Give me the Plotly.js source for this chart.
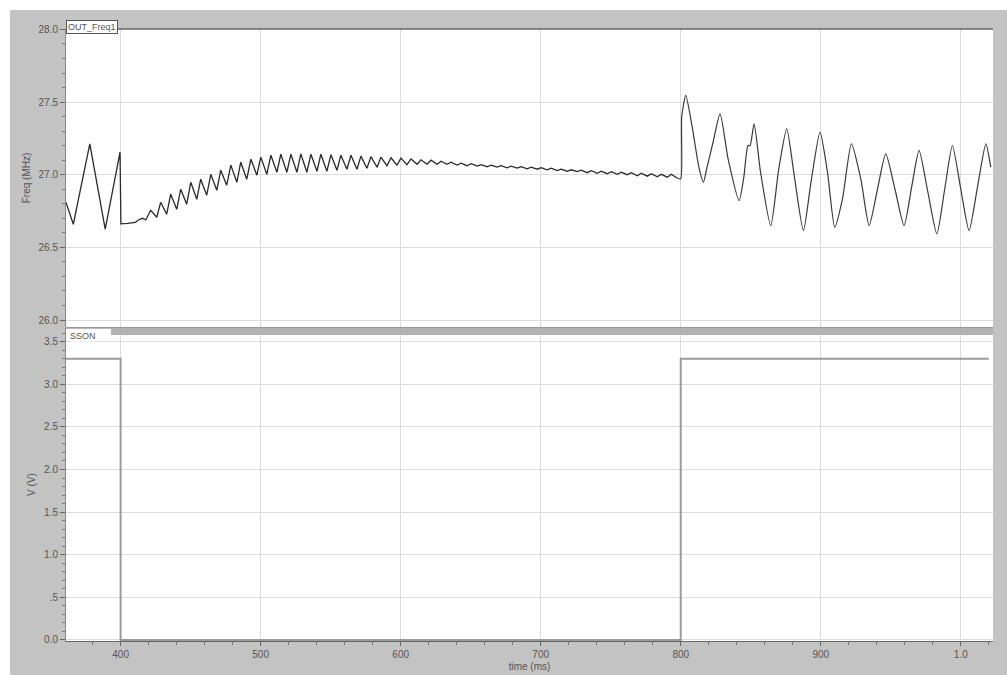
<!DOCTYPE html>
<html>
<head>
<meta charset="utf-8">
<script src="https://cdn.plot.ly/plotly-3.0.1.min.js"></script>
<style>
html,body{margin:0;padding:0;background:#fff;}
#chart{width:1007px;height:675px;}
</style>
</head>
<body>
<div id="chart"></div>
<script>
// ---- data ----
const freqTime = [
  361.0, 366.2, 378.0, 389.0, 399.6, 400.2, 405.0, 410.5, 413.0, 415.5, 418.0,
  421.5, 425.8, 428.6, 432.9, 435.8, 440.1, 442.9, 447.2, 450.1, 454.4,
  457.2, 461.5, 464.4, 468.7, 471.5, 475.8, 478.7, 483.0, 485.8, 490.1,
  493.0, 497.3, 500.1, 504.4, 507.3, 511.6, 514.4, 518.7, 521.6, 525.9,
  528.7, 533.0, 535.9, 540.2, 543.0, 547.3, 550.2, 554.5, 557.3, 561.6,
  564.5, 568.8, 571.6, 575.9, 578.8, 583.1, 585.9, 590.2, 593.1, 597.4,
  600.2, 604.5, 607.4, 611.7, 614.5, 618.8, 621.7, 626.0, 628.8, 633.1,
  636.0, 640.3, 643.1, 647.4, 650.3, 654.6, 657.4, 661.7, 664.6, 668.9,
  671.7, 676.0, 678.9, 683.2, 686.0, 690.3, 693.2, 697.5, 700.3, 704.6,
  707.5, 711.8, 714.6, 718.9, 721.8, 726.1, 728.9, 733.2, 736.1, 740.4,
  743.2, 747.5, 750.4, 754.7, 757.5, 761.8, 764.7, 769.0, 771.8, 776.1,
  779.0, 783.3, 786.1, 790.4, 793.3, 797.6,
  800.0, 800.7, 803.6, 808.0, 813.0, 816.2, 818.5, 823.0, 828.1, 834.0,
  841.7, 845.0, 848.0, 849.5, 852.4, 857.0, 864.3, 870.0, 875.7, 881.0,
  887.6, 893.0, 899.5, 904.8, 910.0, 915.5, 921.9, 928.6, 934.5, 940.5,
  946.4, 953.0, 959.5, 965.0, 970.2, 976.5, 982.9, 988.5, 994.0, 1000.0,
  1005.9, 1012.0, 1017.9, 1021.4
];
const freqMHz = [
  26.810, 26.659, 27.212, 26.626, 27.155, 26.662, 26.665, 26.672, 26.690, 26.700, 26.690,
  26.755, 26.707, 26.810, 26.728, 26.866, 26.762, 26.900, 26.797, 26.948, 26.831,
  26.969, 26.859, 27.003, 26.893, 27.031, 26.928, 27.066, 26.948, 27.086, 26.969,
  27.107, 26.997, 27.121, 27.003, 27.134, 27.017, 27.141, 27.017, 27.141, 27.017,
  27.143, 27.017, 27.141, 27.024, 27.141, 27.024, 27.138, 27.031, 27.134, 27.038,
  27.134, 27.038, 27.128, 27.045, 27.124, 27.052, 27.121, 27.062, 27.117, 27.066,
  27.114, 27.069, 27.109, 27.072, 27.103, 27.072, 27.100, 27.072, 27.093, 27.072,
  27.086, 27.066, 27.079, 27.062, 27.076, 27.059, 27.069, 27.055, 27.066, 27.052,
  27.062, 27.048, 27.059, 27.045, 27.055, 27.041, 27.052, 27.038, 27.048, 27.034,
  27.045, 27.028, 27.038, 27.024, 27.034, 27.021, 27.031, 27.014, 27.028, 27.010,
  27.024, 27.007, 27.021, 27.003, 27.017, 27.000, 27.014, 26.993, 27.010, 26.990,
  27.007, 26.986, 27.003, 26.983, 27.003, 26.976,
  26.972, 27.400, 27.546, 27.339, 27.050, 26.948, 27.040, 27.220, 27.419, 27.100,
  26.822, 26.980, 27.201, 27.200, 27.350, 27.017, 26.650, 27.040, 27.316, 26.997,
  26.615, 26.948, 27.293, 27.017, 26.638, 26.833, 27.212, 26.971, 26.650, 26.900,
  27.143, 26.900, 26.650, 26.920, 27.167, 26.880, 26.592, 26.900, 27.201, 26.900,
  26.615, 26.920, 27.212, 27.052
];
// index where spread-spectrum switches back on (t = 800)
const sscOnIndex = 117;

const ssonTime = [361, 400, 400, 800, 800, 1020];
const ssonVolt = [3.3, 3.3, 0, 0, 3.3, 3.3];

const xTickVals = [400, 500, 600, 700, 800, 900, 1000];
const xTickText = ["400", "500", "600", "700", "800", "900", "1.0"];
const fTickVals = [26.0, 26.5, 27.0, 27.5, 28.0];
const fTickText = ["26.0", "26.5", "27.0", "27.5", "28.0"];
const vTickVals = [0, 0.5, 1.0, 1.5, 2.0, 2.5, 3.0, 3.5];
const vTickText = ["0.0", ".5", "1.0", "1.5", "2.0", "2.5", "3.0", "3.5"];

const traceNames = ["OUT_Freq1", "SSON"];

// ---- chart ----
const FONT = "Liberation Sans, Arial, sans-serif";
const TXT = "#555555";
const GRID = "#dcdcdc";

const traces = [
  {x: freqTime.slice(0, sscOnIndex), y: freqMHz.slice(0, sscOnIndex), type: "scatter", mode: "lines",
   name: traceNames[0], xaxis: "x", yaxis: "y", line: {color: "#2a2a2a", width: 1.3}},
  {x: freqTime.slice(sscOnIndex - 1), y: freqMHz.slice(sscOnIndex - 1), type: "scatter", mode: "lines",
   name: traceNames[0], xaxis: "x", yaxis: "y",
   line: {color: "#3a3a3a", width: 1.2, shape: "spline", smoothing: 0.6}},
  {x: ssonTime, y: ssonVolt, type: "scatter", mode: "lines", name: traceNames[1],
   xaxis: "x2", yaxis: "y2", line: {color: "#9a9a9a", width: 2}}
];

const xCommon = {
  range: [361, 1023], tickmode: "array", tickvals: xTickVals,
  showgrid: true, gridcolor: GRID, gridwidth: 1, zeroline: false,
  ticks: "outside", ticklen: 4, tickcolor: "#666",
  minor: {tick0: 400, dtick: 20, ticks: "outside", ticklen: 3, tickcolor: "#777", showgrid: false},
  tickfont: {family: FONT, size: 10, color: TXT},
  showline: true, linecolor: "#666", linewidth: 1
};

const layout = {
  width: 1007, height: 675,
  margin: {l: 66, r: 14, t: 29, b: 34},
  paper_bgcolor: "#c3c3c3", plot_bgcolor: "#ffffff",
  showlegend: false,
  font: {family: FONT, size: 10, color: TXT},
  xaxis: Object.assign({}, xCommon, {anchor: "y", ticktext: xTickText, showticklabels: false,
    ticks: "", minor: {showgrid: false, ticks: ""}, linecolor: "#bbbbbb"}),
  yaxis: {
    domain: [0.5131, 1], range: [25.952, 28.003], anchor: "x",
    tickmode: "array", tickvals: fTickVals, ticktext: fTickText,
    showgrid: true, gridcolor: GRID, zeroline: false,
    ticks: "outside", ticklen: 5, tickcolor: "#666",
    minor: {tick0: 26.0, dtick: 0.1, ticks: "outside", ticklen: 3, tickcolor: "#777", showgrid: false},
    tickfont: {family: FONT, size: 10, color: TXT},
    showline: true, linecolor: "#888", linewidth: 1,
    title: {text: "Freq (MHz)", font: {family: FONT, size: 10, color: TXT}, standoff: 6}
  },
  xaxis2: Object.assign({}, xCommon, {anchor: "y2", matches: "x", ticktext: xTickText,
    title: {text: "time (ms)", font: {family: FONT, size: 10, color: TXT}, standoff: 3}}),
  yaxis2: {
    domain: [0, 0.5114], range: [-0.012, 3.66], anchor: "x2",
    tickmode: "array", tickvals: vTickVals, ticktext: vTickText,
    showgrid: true, gridcolor: GRID, zeroline: false,
    ticks: "outside", ticklen: 5, tickcolor: "#666",
    minor: {tick0: 0, dtick: 0.1, ticks: "outside", ticklen: 3, tickcolor: "#777", showgrid: false},
    tickfont: {family: FONT, size: 10, color: TXT},
    showline: true, linecolor: "#888", linewidth: 1,
    title: {text: "V (V)", font: {family: FONT, size: 10, color: TXT}, standoff: 6}
  },
  shapes: [
    {type: "rect", xref: "paper", yref: "paper", x0: -66/927, x1: 1.02, y0: 1 + 19/612, y1: 1.1,
     fillcolor: "#ffffff", line: {width: 0}, layer: "above"},
    {type: "rect", xref: "paper", yref: "paper", x0: -0.1, x1: -56/927, y0: -0.1, y1: 1.1,
     fillcolor: "#ffffff", line: {width: 0}, layer: "above"},
    {type: "line", xref: "paper", yref: "paper", x0: 0, x1: 1, y0: 1, y1: 1,
     line: {color: "#666666", width: 1.5}},
    {type: "line", xref: "paper", yref: "paper", x0: 0, x1: 1, y0: 0.5114, y1: 0.5114,
     line: {color: "#777777", width: 1.2}},
    {type: "rect", xref: "paper", yref: "paper", x0: 45/927, x1: 1, y0: 0.5114 - 7/612, y1: 0.5114,
     fillcolor: "#b2b2b2", line: {width: 0}}
  ],
  annotations: [
    {text: traceNames[0], xref: "paper", yref: "paper", x: 0, y: 1 + 9/612, xanchor: "left", yanchor: "top",
     showarrow: false, font: {family: FONT, size: 9, color: TXT}, bgcolor: "#ffffff",
     bordercolor: "#555555", borderwidth: 1, borderpad: 1},
    {text: traceNames[1], xref: "paper", yref: "paper", x: 3/927, y: 0.5114 - 2/612, xanchor: "left", yanchor: "top",
     showarrow: false, font: {family: FONT, size: 9, color: TXT}, bgcolor: "#ffffff", borderpad: 0}
  ]
};

Plotly.newPlot("chart", traces, layout, {displayModeBar: false, staticPlot: true});
</script>
</body>
</html>
